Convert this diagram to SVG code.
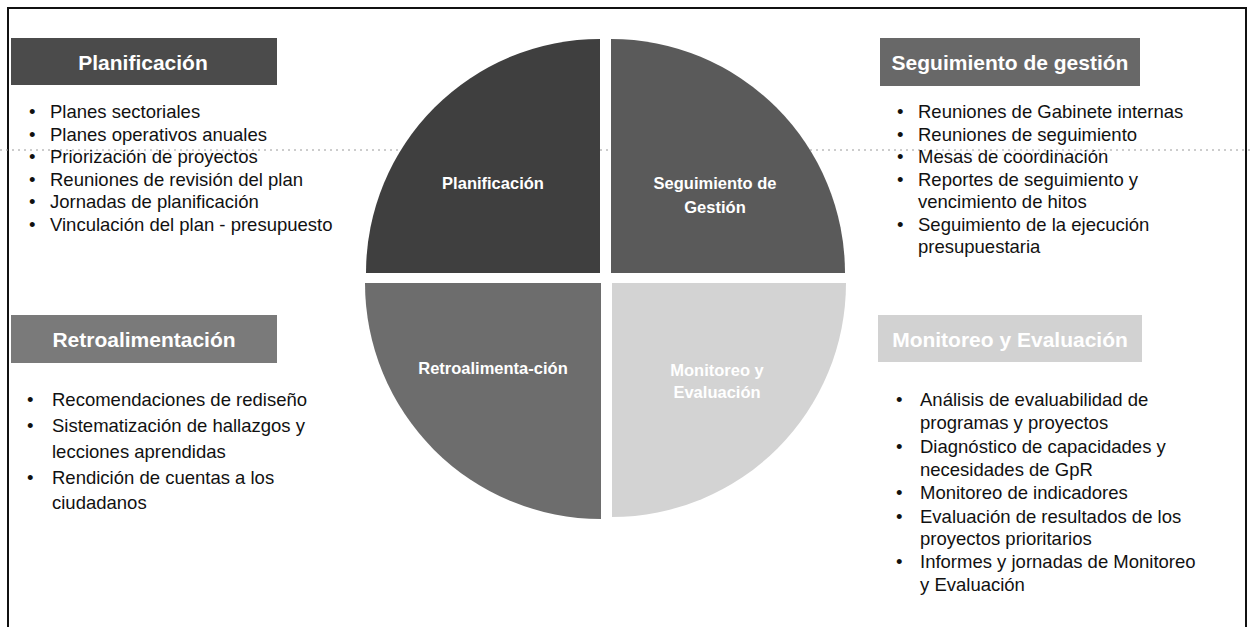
<svg xmlns="http://www.w3.org/2000/svg" width="1253" height="627" viewBox="0 0 1253 627">
<style>
  .hdr { font-family: "Liberation Sans", Arial, sans-serif; font-size: 21px; font-weight: bold; fill: #ffffff; text-anchor: middle; }
  .ql { font-family: "Liberation Sans", Arial, sans-serif; font-size: 16.5px; font-weight: bold; fill: #ffffff; text-anchor: middle; }
  .li { font-family: "Liberation Sans", Arial, sans-serif; font-size: 18.5px; fill: #111111; }
  .frame { stroke: #111111; stroke-width: 2; fill: none; }
</style>
<rect width="1253" height="627" fill="#ffffff"/>
<g id="frame">
  <path class="frame" d="M8,627 L8,8 L1246,8 L1246,627"/>
  <line x1="0" y1="150" x2="1253" y2="150" stroke="#9a9a9a" stroke-width="1" stroke-dasharray="2 4"/>
</g>
<g id="cycle">
  <g id="q-planificacion">
    <path d="M600,273 L366,273 A234,234 0 0 1 600,39 Z" fill="#3f3f3f"/>
    <text class="ql" x="493" y="189">Planificación</text>
  </g>
  <g id="q-seguimiento">
    <path d="M611,273 L611,39 A234,234 0 0 1 845,273 Z" fill="#5a5a5a"/>
    <text class="ql" x="715" y="189">Seguimiento de</text>
    <text class="ql" x="715" y="213">Gestión</text>
  </g>
  <g id="q-monitoreo">
    <path d="M612,283 L846,283 A234,234 0 0 1 612,517 Z" fill="#d3d3d3"/>
    <text class="ql" x="717" y="376">Monitoreo y</text>
    <text class="ql" x="717" y="398">Evaluación</text>
  </g>
  <g id="q-retroalimentacion">
    <path d="M601,283 L601,519 A236,236 0 0 1 365,283 Z" fill="#6d6d6d"/>
    <text class="ql" x="493" y="374">Retroalimenta-ción</text>
  </g>
</g>
<g id="box-planificacion">
  <rect x="11" y="38" width="266" height="47" fill="#4b4b4b"/>
  <text class="hdr" x="143" y="70">Planificación</text>
  <g class="li">
    <text x="29" y="118">•</text><text x="50" y="118">Planes sectoriales</text>
    <text x="29" y="141">•</text><text x="50" y="141">Planes operativos anuales</text>
    <text x="29" y="163">•</text><text x="50" y="163">Priorización de proyectos</text>
    <text x="29" y="186">•</text><text x="50" y="186">Reuniones de revisión del plan</text>
    <text x="29" y="208">•</text><text x="50" y="208">Jornadas de planificación</text>
    <text x="29" y="231">•</text><text x="50" y="231">Vinculación del plan - presupuesto</text>
  </g>
</g>
<g id="box-seguimiento">
  <rect x="880" y="38" width="260" height="48" fill="#686868"/>
  <text class="hdr" x="1010" y="70">Seguimiento de gestión</text>
  <g class="li">
    <text x="897" y="118">•</text><text x="918" y="118">Reuniones de Gabinete internas</text>
    <text x="897" y="141">•</text><text x="918" y="141">Reuniones de seguimiento</text>
    <text x="897" y="163">•</text><text x="918" y="163">Mesas de coordinación</text>
    <text x="897" y="186">•</text><text x="918" y="186">Reportes de seguimiento y</text>
    <text x="918" y="208">vencimiento de hitos</text>
    <text x="897" y="231">•</text><text x="918" y="231">Seguimiento de la ejecución</text>
    <text x="918" y="253">presupuestaria</text>
  </g>
</g>
<g id="box-retroalimentacion">
  <rect x="11" y="315" width="266" height="48" fill="#7a7a7a"/>
  <text class="hdr" x="144" y="347">Retroalimentación</text>
  <g class="li">
    <text x="27" y="406">•</text><text x="52" y="406">Recomendaciones de rediseño</text>
    <text x="27" y="432">•</text><text x="52" y="432">Sistematización de hallazgos y</text>
    <text x="52" y="458">lecciones aprendidas</text>
    <text x="27" y="484">•</text><text x="52" y="484">Rendición de cuentas a los</text>
    <text x="52" y="509">ciudadanos</text>
  </g>
</g>
<g id="box-monitoreo">
  <rect x="878" y="315" width="264" height="47" fill="#d2d2d2"/>
  <text class="hdr" x="1010" y="347">Monitoreo y Evaluación</text>
  <g class="li">
    <text x="896" y="406">•</text><text x="920" y="406">Análisis de evaluabilidad de</text>
    <text x="920" y="429">programas y proyectos</text>
    <text x="896" y="453">•</text><text x="920" y="453">Diagnóstico de capacidades y</text>
    <text x="920" y="476">necesidades de GpR</text>
    <text x="896" y="499">•</text><text x="920" y="499">Monitoreo de indicadores</text>
    <text x="896" y="523">•</text><text x="920" y="523">Evaluación de resultados de los</text>
    <text x="920" y="545">proyectos prioritarios</text>
    <text x="896" y="568">•</text><text x="920" y="568">Informes y jornadas de Monitoreo</text>
    <text x="920" y="591">y Evaluación</text>
  </g>
</g>
<g id="connectors"/>
</svg>
